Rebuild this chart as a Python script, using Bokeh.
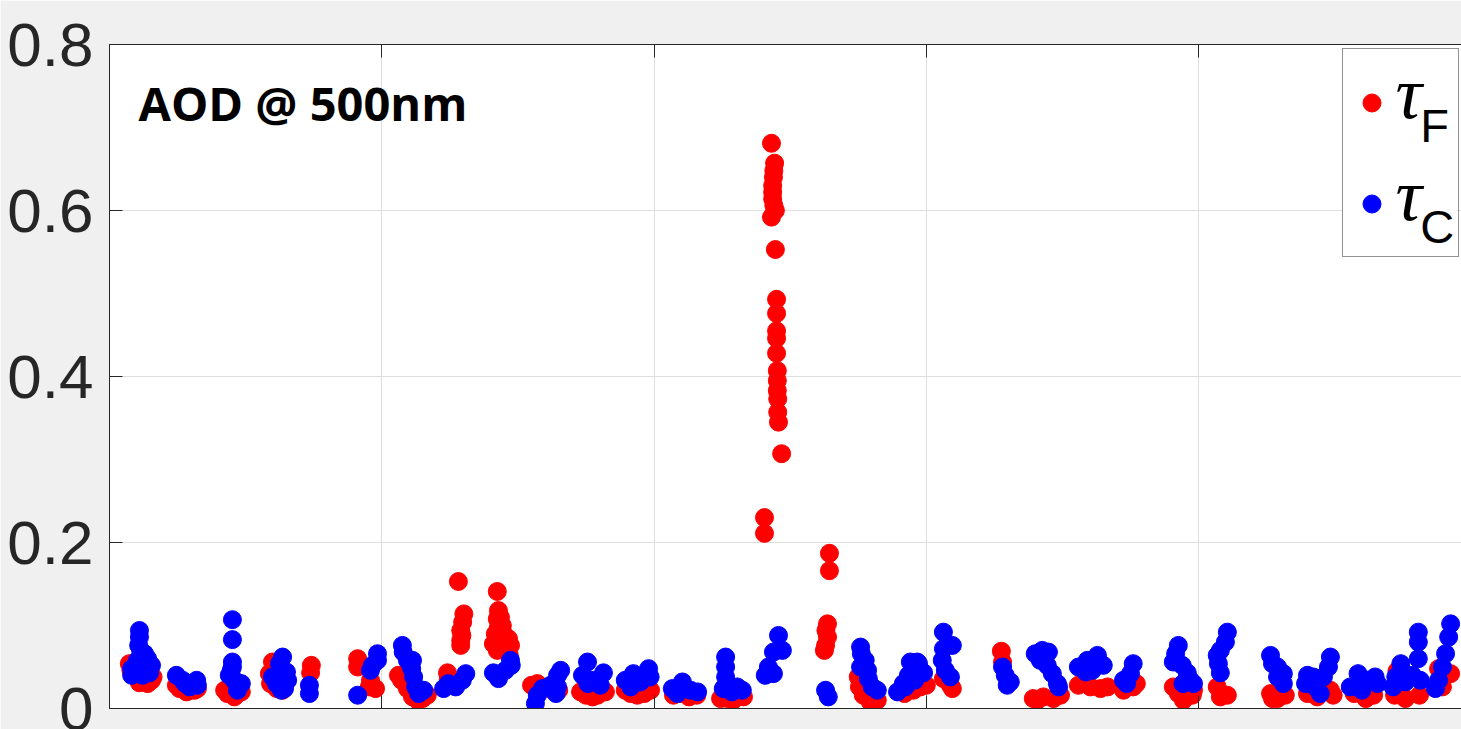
import re
from bokeh.plotting import figure
from bokeh.models import (Range1d, FixedTicker, LinearAxis, CustomJSTickFormatter,
                          Label, Legend, LegendItem, ColumnDataSource, BoxAnnotation)
from bokeh.embed import file_html
from bokeh.resources import INLINE

# ---------------- data (day index, AOD at 500 nm) ----------------
fine_day = [
    0.51, 0.55, 0.65, 0.77, 0.85, 0.98, 1.08, 1.12,
    1.72, 1.80, 1.98, 2.10, 2.19, 2.26,
    2.96, 3.03, 3.21, 3.30, 3.39,
    4.19, 4.11, 4.14, 4.30, 4.45,
    5.19, 5.17,
    6.38, 6.38, 6.68, 6.71, 6.84,
    7.43, 7.51, 7.66, 7.79, 7.92, 8.05, 8.17,
    8.69, 8.71, 8.97, 9.11, 9.08, 9.03, 9.06, 9.03, 9.03,
    9.97, 10.00, 9.97, 10.00, 10.13, 10.26, 10.31, 9.87, 9.97, 10.20, 9.92, 10.05, 10.10, 10.22, 10.28,
    10.85, 11.00, 11.30, 11.55,
    12.11, 12.25, 12.42, 12.55, 12.75,
    13.26, 13.40, 13.57, 13.75, 13.91,
    14.50, 14.70, 14.90, 15.10,
    15.71, 15.90, 16.04, 16.30,
    16.84, 16.84, 17.02, 17.10, 17.08, 17.07, 17.05, 17.05, 17.05, 17.08, 17.12, 17.02, 17.12,
    17.15, 17.15, 17.15, 17.15, 17.15, 17.17, 17.17, 17.17, 17.18, 17.18, 17.20, 17.28, 16.90,
    18.51, 18.51, 18.46, 18.42, 18.46, 18.41, 18.38,
    19.25, 19.28, 19.38, 19.56, 19.74,
    20.44, 20.67, 20.85, 21.00,
    21.44, 21.62, 21.67,
    22.93, 22.96,
    23.75, 23.86, 24.01, 24.27, 24.45,
    24.91, 25.00, 25.22, 25.48, 25.66,
    26.07, 26.32, 26.40,
    27.35, 27.48, 27.61, 27.84, 27.87,
    28.48, 28.56, 28.74,
    29.85, 29.90, 30.03, 30.23,
    30.80, 31.05, 31.39, 31.46,
    32.00, 32.30, 32.50,
    33.04, 33.10, 33.32, 33.68,
    34.17, 34.27, 34.48,
]
fine_tau = [
    0.054, 0.046, 0.040, 0.031, 0.034, 0.030, 0.034, 0.038,
    0.028, 0.024, 0.020, 0.022, 0.022, 0.024,
    0.022, 0.018, 0.014, 0.018, 0.020,
    0.056, 0.042, 0.030, 0.024, 0.022,
    0.052, 0.043,
    0.060, 0.050, 0.026, 0.034, 0.024,
    0.040, 0.034, 0.024, 0.014, 0.010, 0.012, 0.016,
    0.043, 0.035, 0.153, 0.114, 0.104, 0.094, 0.088, 0.082, 0.076,
    0.141, 0.118, 0.108, 0.098, 0.090, 0.084, 0.076, 0.078, 0.070, 0.070, 0.090, 0.110, 0.100, 0.080, 0.064,
    0.028, 0.030, 0.024, 0.022,
    0.020, 0.016, 0.014, 0.016, 0.020,
    0.022, 0.018, 0.016, 0.018, 0.022,
    0.016, 0.018, 0.014, 0.016,
    0.012, 0.012, 0.010, 0.014,
    0.230, 0.211, 0.681, 0.657, 0.648, 0.640, 0.630, 0.622, 0.614, 0.606, 0.600, 0.592, 0.553,
    0.493, 0.476, 0.455, 0.446, 0.428, 0.407, 0.395, 0.383, 0.373, 0.357, 0.345, 0.307, 0.042,
    0.187, 0.166, 0.102, 0.094, 0.086, 0.076, 0.070,
    0.038, 0.026, 0.016, 0.008, 0.010,
    0.018, 0.022, 0.026, 0.028,
    0.036, 0.028, 0.024,
    0.069, 0.056,
    0.012, 0.010, 0.014, 0.012, 0.016,
    0.028, 0.030, 0.026, 0.024, 0.026,
    0.022, 0.026, 0.030,
    0.026, 0.018, 0.010, 0.016, 0.022,
    0.026, 0.014, 0.016,
    0.018, 0.012, 0.012, 0.016,
    0.018, 0.014, 0.022, 0.016,
    0.018, 0.012, 0.016,
    0.016, 0.045, 0.012, 0.016,
    0.048, 0.026, 0.042,
]
coarse_day = [
    0.77, 0.77, 0.75, 0.80, 0.90, 0.98, 1.08, 1.03, 0.57, 0.57, 0.69, 0.82, 0.72, 0.85,
    1.72, 1.88, 2.06, 2.24, 2.26, 1.95,
    3.16, 3.16, 3.16, 3.16, 3.08, 3.21, 3.39, 3.29, 3.13,
    4.45, 4.37, 4.55, 4.19, 4.29, 4.50, 4.58, 4.42,
    5.14, 5.14,
    6.38, 6.76, 6.89, 6.89, 6.71,
    7.53, 7.55, 7.79, 7.77, 7.82, 7.87, 7.95, 8.08, 7.66,
    8.59, 8.71, 8.90, 9.07, 9.16,
    9.87, 10.00, 10.18, 10.31, 10.33,
    10.95, 11.00, 11.13, 11.34, 11.52, 11.60, 11.52, 11.48,
    12.29, 12.16, 12.44, 12.70, 12.62, 12.30,
    13.26, 13.47, 13.65, 13.86, 13.90, 13.40,
    14.47, 14.73, 14.94, 15.12, 14.60,
    15.84, 15.84, 15.84, 15.78, 16.14, 16.27, 16.00,
    17.20, 17.07, 17.30, 16.94, 16.86, 17.07,
    18.41, 18.48,
    19.31, 19.33, 19.43, 19.49, 19.51, 19.61, 19.74, 19.31,
    20.26, 20.41, 20.54, 20.67, 20.80, 20.59, 20.77, 20.93, 20.46, 20.70,
    21.44, 21.67, 21.44, 21.41, 21.49, 21.62,
    22.96, 23.03, 23.16, 23.08,
    23.80, 23.98, 24.14, 24.11, 24.24, 24.37, 24.40, 23.93,
    24.91, 25.14, 25.40, 25.55, 25.27, 25.10,
    26.32, 26.25, 26.07, 26.15,
    27.48, 27.41, 27.35, 27.58, 27.71, 27.79, 27.87, 27.60,
    28.74, 28.69, 28.56, 28.48, 28.51, 28.56,
    29.85, 29.90, 30.03, 30.18, 30.18, 30.03,
    31.39, 31.34, 31.21, 31.13, 30.95, 30.75, 30.80, 31.00,
    32.10, 32.34, 32.54, 31.90, 32.20, 32.60,
    33.65, 33.65, 33.65, 33.20, 33.07, 33.32, 33.70, 33.00, 33.50,
    34.48, 34.43, 34.35, 34.27, 34.17, 34.09,
]
coarse_tau = [
    0.094, 0.086, 0.076, 0.070, 0.066, 0.060, 0.052, 0.043, 0.048, 0.040, 0.043, 0.049, 0.058, 0.040,
    0.040, 0.034, 0.026, 0.034, 0.028, 0.030,
    0.107, 0.083, 0.056, 0.050, 0.040, 0.034, 0.030, 0.022, 0.046,
    0.062, 0.054, 0.044, 0.038, 0.030, 0.024, 0.034, 0.022,
    0.028, 0.018,
    0.016, 0.052, 0.066, 0.058, 0.046,
    0.076, 0.068, 0.058, 0.048, 0.038, 0.026, 0.018, 0.022, 0.058,
    0.024, 0.030, 0.026, 0.034, 0.042,
    0.043, 0.036, 0.046, 0.058, 0.052,
    0.006, 0.016, 0.024, 0.028, 0.040, 0.046, 0.026, 0.018,
    0.056, 0.040, 0.034, 0.043, 0.028, 0.030,
    0.034, 0.042, 0.032, 0.048, 0.038, 0.026,
    0.024, 0.032, 0.022, 0.020, 0.018,
    0.062, 0.050, 0.038, 0.024, 0.026, 0.022, 0.020,
    0.088, 0.068, 0.070, 0.050, 0.040, 0.042,
    0.022, 0.014,
    0.074, 0.066, 0.058, 0.046, 0.036, 0.026, 0.022, 0.050,
    0.020, 0.030, 0.040, 0.050, 0.054, 0.056, 0.056, 0.043, 0.026, 0.034,
    0.092, 0.076, 0.072, 0.058, 0.046, 0.038,
    0.050, 0.040, 0.032, 0.028,
    0.066, 0.070, 0.068, 0.052, 0.042, 0.030, 0.026, 0.058,
    0.050, 0.058, 0.064, 0.052, 0.046, 0.044,
    0.054, 0.042, 0.034, 0.030,
    0.076, 0.066, 0.056, 0.052, 0.043, 0.034, 0.030, 0.030,
    0.092, 0.080, 0.070, 0.064, 0.054, 0.043,
    0.064, 0.054, 0.050, 0.042, 0.030, 0.038,
    0.062, 0.050, 0.038, 0.018, 0.038, 0.030, 0.040, 0.026,
    0.042, 0.034, 0.038, 0.026, 0.022, 0.030,
    0.092, 0.080, 0.060, 0.054, 0.038, 0.032, 0.034, 0.026, 0.040,
    0.102, 0.086, 0.066, 0.050, 0.034, 0.024,
]
y_ticks = [0, 0.2, 0.4, 0.6, 0.8]
x_ticks = [0, 7, 14, 21, 28, 35]
title_text = "AOD @ 500nm"

AX = "#262626"
BG = "#f0f0f0"

p = figure(width=1461, height=729, output_backend="svg", toolbar_location=None,
           x_range=Range1d(0, 34.76), y_range=Range1d(0, 0.8),
           min_border_left=109, min_border_top=44, min_border_bottom=21, min_border_right=0,
           background_fill_color="white", border_fill_color=BG, outline_line_color=None)

# y axis
ya = p.yaxis[0]
ya.ticker = FixedTicker(ticks=y_ticks)
ya.formatter = CustomJSTickFormatter(code="return tick == 0 ? '0' : tick.toFixed(1);")
ya.major_tick_in = 13
ya.major_tick_out = 0
ya.minor_tick_line_color = None
ya.axis_line_color = AX
ya.major_tick_line_color = AX
ya.major_label_text_font = "Liberation Sans"
ya.major_label_text_font_size = "62px"
ya.major_label_text_color = AX
ya.major_label_standoff = 16

# bottom x axis
xa = p.xaxis[0]
xa.ticker = FixedTicker(ticks=x_ticks)
xa.formatter = CustomJSTickFormatter(code="return '';")
xa.major_tick_in = 13
xa.major_tick_out = 0
xa.minor_tick_line_color = None
xa.axis_line_color = AX
xa.major_tick_line_color = AX
xa.major_label_text_font_size = "1px"
xa.major_label_standoff = 0

# top x axis (box)
top = LinearAxis(ticker=FixedTicker(ticks=x_ticks),
                 formatter=CustomJSTickFormatter(code="return '';"),
                 major_tick_in=13, major_tick_out=0, minor_tick_line_color=None,
                 axis_line_color=AX, major_tick_line_color=AX,
                 major_label_text_font_size="1px", major_label_standoff=0)
p.add_layout(top, "above")

p.xgrid.ticker = FixedTicker(ticks=x_ticks)
p.ygrid.ticker = FixedTicker(ticks=y_ticks)
p.xgrid.grid_line_color = "#dedede"
p.ygrid.grid_line_color = "#dedede"

# white legend background (below the glyphs, above the grid)
p.add_layout(BoxAnnotation(left=31.70, right=34.65, top=0.7928, bottom=0.5434,
                           fill_color="white", fill_alpha=1, line_color=None,
                           level="underlay"))

src_f = ColumnDataSource(dict(x=fine_day, y=fine_tau))
src_c = ColumnDataSource(dict(x=coarse_day, y=coarse_tau))
r_f = p.scatter("x", "y", source=src_f, size=18, fill_color="#ff0000", line_color="#ff0000")
r_c = p.scatter("x", "y", source=src_c, size=18, fill_color="#0000ff", line_color="#0000ff")

legend = Legend(items=[LegendItem(label=" ", renderers=[r_f]),
                       LegendItem(label=" ", renderers=[r_c])],
                location=(1233, 451), padding=6, spacing=7, margin=0,
                glyph_width=45, glyph_height=45, label_height=94, label_width=53,
                label_standoff=5, label_text_font_size="10px",
                border_line_color=AX, border_line_width=1,
                background_fill_alpha=0)
p.add_layout(legend)

def lab(x, y, text, font, size, style="normal"):
    p.add_layout(Label(x=x, y=y, text=text, level="overlay",
                       text_font=font, text_font_size=size, text_font_style=style,
                       text_color="black", text_baseline="middle", text_align="left"))

lab(0.745, 0.730, title_text, "Open Sans", "47px", "bold")
lab(33.06, 0.741, "\u03c4", "Liberation Serif", "74px", "italic")
lab(33.70, 0.702, "F", "Liberation Sans", "47px")
lab(33.06, 0.619, "\u03c4", "Liberation Serif", "74px", "italic")
lab(33.70, 0.581, "C", "Liberation Sans", "47px")

html = file_html(p, INLINE)
html = re.sub(r"<body[^>]*>", '<body style="background-color:#f0f0f0;">', html, count=1)
open("out.html", "w").write(html)
